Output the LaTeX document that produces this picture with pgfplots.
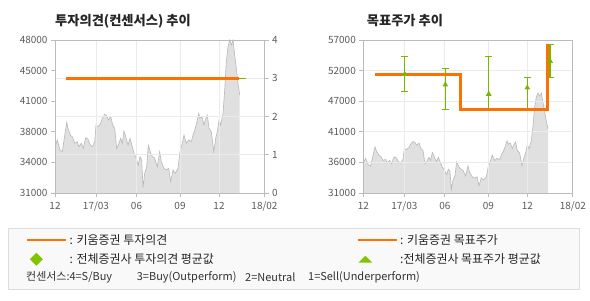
\documentclass[border=0pt]{standalone}
\usepackage{pgfplots}
\pgfplotsset{compat=1.18}
\usepackage{pgfplotstable}
\usepackage{fontspec}
\setmainfont{Noto Sans CJK KR}
\definecolor{oc}{HTML}{FF7000}
\definecolor{gc}{HTML}{76B700}
\definecolor{lgc}{HTML}{82C400}
\definecolor{fillc}{HTML}{E0E0E0}
\definecolor{linec}{HTML}{B8B8B8}
\definecolor{gridc}{HTML}{EBEBEB}
\definecolor{framec}{HTML}{BBBBBB}
\definecolor{labc}{HTML}{5A5A5A}
\definecolor{boxf}{HTML}{F9F9F9}
\definecolor{boxd}{HTML}{DDDDDD}

\pgfplotstableread{
x y
0 36144
2.3 36890
5 35780
7.3 35590
9.7 37370
11.7 38850
13 38190
15.7 37370
17.3 37260
19.7 36520
22.3 36700
24 36140
26.3 36520
28.3 35960
30.7 37150
33 37000
35 36370
37.3 36140
39.7 36700
41 38560
43 38370
45.7 38740
47.3 39300
49.7 39740
51.7 39590
53.3 39110
55.7 39480
57.7 38560
59.7 38190
61.7 35960
63.3 36330
65.7 37070
67.3 36520
69 37890
70.7 37260
73 36330
75 37070
77.3 36140
79 35410
81.7 34670
83.3 34110
85 35040
86.7 34670
88 31590
89.7 33190
91.7 33920
93.3 36330
96.3 35220
99.7 34850
102.3 33920
104.7 35590
106.3 34480
109 33740
111.3 33560
113.7 33740
115.7 32260
118 33560
120.3 33190
123 33740
125 35590
127.3 36520
129 37440
131.3 36520
133.7 36890
136.3 36700
138 37440
140.3 38190
142.3 39110
143.7 39850
145 39300
147 39480
149 38560
150.3 39110
152.3 39670
154 38190
156.3 37810
158.7 35590
160.7 37070
162.3 37810
164 39110
165.7 38560
168 39850
169.7 42440
171.3 45590
173 47260
174.7 48000
176.3 47440
178 48000
179.7 46330
181.3 44850
183 43180
184.7 41890
}\price

\pgfplotsset{
  base/.style={scale only axis, width=209.5bp, height=153bp, xmin=0, xmax=209.5,
    xtick={0,41,81.5,125,164,209.5}, scaled ticks=false,
    axis line style={framec, line width=0.8bp},
    tick style={framec, line width=0.8bp}, major tick length=4bp, tick align=outside,
    ticklabel style={font=\fontsize{10}{12}\selectfont, text=labc},
    xticklabel style={yshift=-1.5bp},
    /pgf/number format/assume math mode=true, clip=true},
}

\begin{document}
\begin{tikzpicture}[x=1bp,y=1bp]
\path[use as bounding box] (0,0) rectangle (590,300);
\filldraw[fill=boxf, draw=boxd, line width=0.8bp] (8.3,11) rectangle (579.3,71.7);

\node[anchor=west, font=\fontsize{13.3}{15}\selectfont\bfseries, text=black!85, inner sep=0] at (55,279) {투자의견(컨센서스) 추이};
\node[anchor=west, font=\fontsize{13.3}{15}\selectfont\bfseries, text=black!85, inner sep=0] at (366.7,279) {목표주가 추이};

% ---- left panel: price
\begin{axis}[base, at={(55bp,107bp)}, anchor=south west, ymin=31000, ymax=48000,
  ytick={31000,34400,37800,41200,44600,48000},
  yticklabels={31000,34000,38000,41000,45000,48000},
  xticklabels={12,17/03,06,09,12,18/02}, xtick pos=bottom, ytick pos=left]
\addplot[fill=fillc, draw=none] table {\price} \closedcycle;
\addplot[linec, line width=0.6bp] table {\price};
\end{axis}
% ---- left panel: opinion
\begin{axis}[base, at={(55bp,107bp)}, anchor=south west, ymin=0, ymax=4,
  ytick={0,1,2,3,4}, ytick pos=right, yticklabel pos=right,
  xticklabels={}, xtick pos=bottom, grid=major, grid style={gridc, line width=0.8bp},
  legend columns=2,
  legend style={at={(axis description cs:-0.1384,-0.255)}, anchor=north west,
    draw=none, fill=none, inner sep=0pt, row sep=0pt, column sep=0pt,
    font=\fontsize{12}{14}\selectfont, text=black!85,
    nodes={inner sep=0pt, text height=12bp, text depth=7bp, anchor=base west}},
  legend cell align=left]
\addplot[gc, line width=1.3bp, forget plot] coordinates {(11,3) (191,3)};
\addplot[oc, line width=2.5bp, forget plot] coordinates {(11,3) (184.3,3)};
\addlegendimage{legend image code/.code={\draw[oc, line width=2.5bp] (0bp,4bp) -- (39bp,4bp);}}
\addlegendentry{\makebox[289bp][l]{\hspace{2bp}: 키움증권 투자의견}}
\addlegendimage{legend image code/.code={\draw[oc, line width=2.5bp] (0bp,4bp) -- (39bp,4bp);}}
\addlegendentry{\hspace{2bp}: 키움증권 목표주가}
\addlegendimage{legend image code/.code={\path[draw=none, fill=none] (0bp,4bp) -- (39bp,4bp); \fill[lgc, draw=none] (9bp,-2.5bp) -- (15.5bp,4bp) -- (9bp,10.5bp) -- (2.5bp,4bp) -- cycle;}}
\addlegendentry{\makebox[289bp][l]{\hspace{2bp}: 전체증권사 투자의견 평균값}}
\addlegendimage{legend image code/.code={\path[draw=none, fill=none] (0bp,4bp) -- (39bp,4bp); \fill[lgc, draw=none] (0.5bp,0.5bp) -- (14.5bp,0.5bp) -- (7.5bp,7.5bp) -- cycle;}}
\addlegendentry{\hspace{2bp}:전체증권사 목표주가 평균값}
\end{axis}

% ---- right panel: price
\begin{axis}[base, at={(363.3bp,107bp)}, anchor=south west, ymin=31000, ymax=57000, hide axis]
\addplot[fill=fillc, draw=none] table {\price} \closedcycle;
\addplot[linec, line width=0.6bp] table {\price};
\end{axis}
% ---- right panel: target price
\begin{axis}[base, at={(363.3bp,107bp)}, anchor=south west, ymin=31000, ymax=57000,
  ytick={31000,36200,41400,46600,51800,57000},
  yticklabels={31000,36000,41000,47000,52000,57000},
  xticklabels={12,17/03,06,09,12,18/02}, xtick pos=bottom, ytick pos=left,
  grid=major, grid style={gridc, line width=0.8bp}]
\addplot[gc, line width=1.2bp, only marks, mark=triangle*, mark size=2.2bp, mark options={gc},
  error bars/.cd, y dir=both, y explicit, error mark=|,
  error mark options={gc, line width=1.2bp, mark size=3.5bp},
  error bar style={gc, line width=1.2bp}]
  coordinates {
  (41.4,51210) +=(0,2950) -=(0,2900)
  (82,49390) +=(0,2780) -=(0,4200)
  (125.4,47800) +=(0,6360) -=(0,2610)
  (164,48880) +=(0,1760) -=(0,3690)
  (186.7,53420) +=(0,2840) -=(0,2780)
  };
\addplot[oc, line width=3bp, line join=miter] coordinates {(12,51100) (97,51100) (97,45190) (184.4,45190) (184.4,56260)};
\end{axis}

\node[anchor=west, inner sep=0, font=\fontsize{11}{13}\selectfont, text=black!80] at (26,23) {컨센서스:4=S/Buy};
\node[anchor=west, inner sep=0, font=\fontsize{11}{13}\selectfont, text=black!80] at (136.7,23) {3=Buy(Outperform)};
\node[anchor=west, inner sep=0, font=\fontsize{11}{13}\selectfont, text=black!80] at (245,23) {2=Neutral};
\node[anchor=west, inner sep=0, font=\fontsize{11}{13}\selectfont, text=black!80] at (308,23) {1=Sell(Underperform)};
\end{tikzpicture}
\end{document}
